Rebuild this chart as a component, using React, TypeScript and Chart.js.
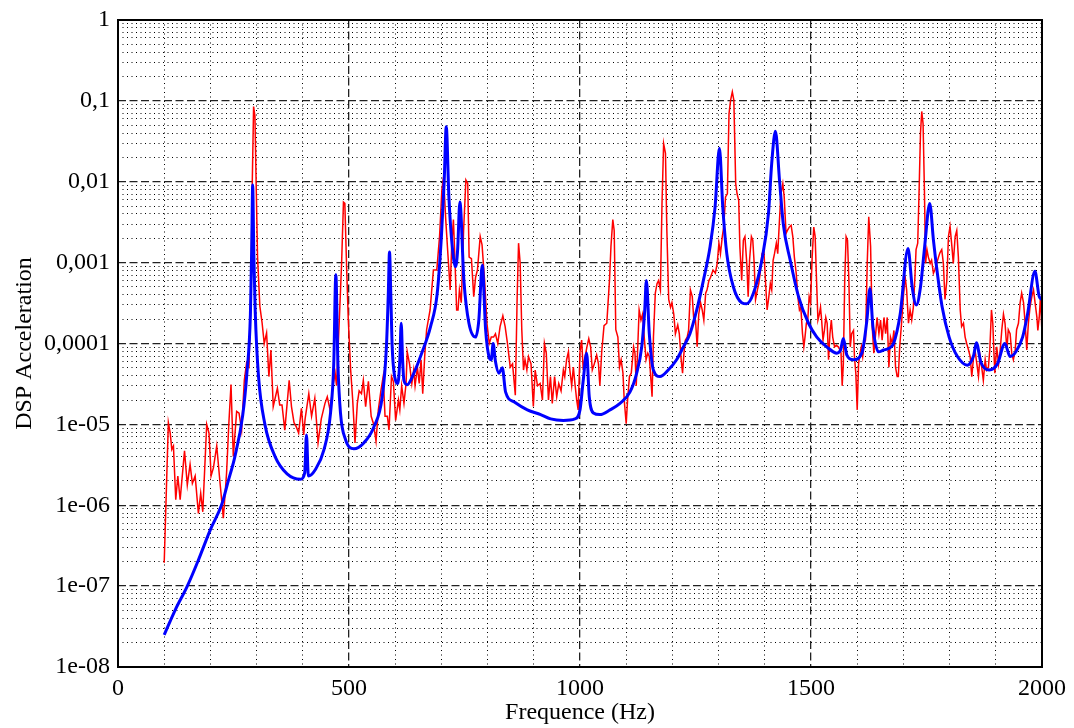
import React, { useEffect, useRef } from 'react';
import { Chart, registerables } from 'chart.js';

Chart.register(...registerables);

// ---------- data ----------
const redHz = [
  100, 109, 113, 116.5, 120, 125, 129.5, 134.5, 144, 150,
  156, 161, 167, 174, 179, 183.5, 192, 197, 201.5, 206.5,
  213.7, 221, 228, 235, 240, 244.6, 249.6, 256.8, 262, 267.6,
  273.4, 278.4, 283.5, 287.8, 290.6, 293.5, 296.4, 299.3, 302, 307,
  312, 316.5, 321.6, 326.6, 331, 336, 345, 350, 355, 361,
  370.5, 375.5, 381, 386, 391, 397, 402, 405, 413, 419,
  426, 433, 440, 448, 453, 459, 466, 470, 473, 479,
  484, 488, 491, 495, 498.5, 503.6, 508, 513, 518, 522,
  527, 531, 536, 542, 548, 553, 558.5, 563.5, 569, 574,
  578, 583, 586.6, 592, 596, 601, 607, 610, 614, 619,
  623.5, 626, 631, 636, 640, 643, 648, 652, 656, 659.6,
  664, 668, 675.5, 682.7, 690, 696, 701, 704.6, 709.4, 714,
  719, 722.5, 726, 729.6, 733, 736, 739, 743, 748, 753,
  757, 760, 765, 770, 774, 778, 784, 788, 793.5, 798.6,
  803.6, 808, 813, 817, 822, 827, 833, 838, 843, 849,
  854, 860, 864, 867, 870.5, 874, 877.7, 881, 885, 888.5,
  894, 899, 903, 908, 913.7, 918.7, 923, 927, 931.7, 936,
  940, 945, 949.6, 954, 959, 964, 967, 971, 975, 978,
  982, 985.6, 989, 992.8, 996, 1000, 1003.6, 1007, 1011, 1015,
  1019, 1023, 1026.6, 1031, 1036, 1040, 1043, 1047, 1052, 1058,
  1064, 1067, 1071, 1074, 1077.5, 1082, 1085.5, 1089, 1093, 1095.7,
  1100, 1103, 1107, 1111, 1116, 1119, 1121.7, 1125, 1128, 1132,
  1135.5, 1139, 1143, 1146.7, 1150, 1153.6, 1156, 1159, 1163, 1166.7,
  1170, 1174, 1177.5, 1181, 1185, 1188, 1192, 1196, 1199, 1203,
  1206.5, 1211.6, 1215, 1219, 1222, 1225, 1228, 1232, 1235, 1239,
  1243, 1246, 1250, 1253.6, 1257, 1261, 1264.5, 1268, 1272, 1275,
  1279, 1282.6, 1288, 1293, 1297, 1300.7, 1304, 1308, 1311, 1315,
  1319, 1322.5, 1326, 1329.7, 1333, 1337, 1340, 1343.5, 1346, 1350,
  1353.6, 1357, 1361, 1364, 1367, 1371, 1374, 1377, 1380, 1384,
  1387, 1390, 1394, 1398, 1401.4, 1405, 1408, 1412, 1415, 1418,
  1421, 1425, 1428, 1431.8, 1435, 1439, 1442, 1446, 1449, 1453,
  1457, 1460.6, 1464, 1468, 1471.5, 1475, 1478, 1481.6, 1484.5, 1487,
  1490, 1493, 1496, 1499, 1502.5, 1506, 1509, 1512, 1515, 1518,
  1520.6, 1523, 1526, 1529, 1532, 1535, 1538, 1541, 1544, 1547,
  1551, 1555, 1559, 1563, 1565, 1567.5, 1570, 1573, 1576, 1579,
  1582, 1585, 1588, 1592, 1594, 1597, 1600, 1603, 1606, 1609,
  1612, 1615, 1618, 1621.7, 1625, 1629, 1632.5, 1636, 1640, 1643,
  1647, 1650.5, 1654, 1658, 1661.5, 1665, 1668.6, 1672, 1676, 1679.5,
  1683, 1686.6, 1689, 1692, 1696, 1700, 1703.6, 1707, 1711, 1714.5,
  1718, 1721.5, 1725, 1727.4, 1731, 1734, 1737, 1739.7, 1742.6, 1745.5,
  1748, 1751, 1754, 1758, 1761, 1765, 1768, 1772, 1776, 1779,
  1783, 1786.5, 1790, 1794, 1797.5, 1801, 1805, 1808, 1812, 1815.5,
  1819, 1823, 1826, 1830, 1833.6, 1837, 1841, 1844.5, 1848, 1852,
  1855, 1859, 1862.5, 1866, 1869.5, 1873, 1877, 1880, 1884, 1887,
  1890.6, 1893.5, 1896, 1898, 1902, 1906, 1909, 1913, 1916.6, 1920,
  1924, 1927, 1931, 1934.5, 1938, 1942, 1945, 1949, 1952.7, 1956,
  1960, 1963.5, 1967, 1970.5, 1974, 1978, 1981.6, 1985, 1989, 1991,
  1994, 1996.7, 2000,
];

const redVal = [
  1.95e-7, 1.05e-5, 7.8e-6, 4.9e-6, 5.4e-6, 1.17e-6, 2.3e-6, 1.17e-6, 4.7e-6, 1.78e-6,
  3.2e-6, 1.86e-6, 2.3e-6, 7.9e-7, 1.41e-6, 8.3e-7, 1.0e-5, 7.8e-6, 2.3e-6, 2.9e-6,
  5.4e-6, 1.86e-6, 6.9e-7, 2.5e-6, 1.05e-5, 3.1e-5, 4.0e-6, 1.45e-5, 1.38e-5, 8.5e-6,
  3.5e-5, 5.8e-5, 5.2e-5, 4.6e-4, 9.5e-3, 0.085, 0.065, 7.9e-3, 1.2e-3, 2.9e-4,
  1.78e-4, 1.0e-4, 1.35e-4, 3.9e-5, 8.3e-5, 1.66e-5, 2.8e-5, 1.74e-5, 1.74e-5, 8.5e-6,
  3.5e-5, 1.66e-5, 1.05e-5, 9.3e-6, 7.8e-6, 1.58e-5, 7.4e-6, 1.17e-5, 2.4e-5, 1.26e-5,
  2.1e-5, 5.9e-6, 1.17e-5, 1.82e-5, 2.2e-5, 1.51e-5, 3.2e-5, 4.3e-5, 3.0e-5, 1.95e-4,
  9.8e-4, 5.6e-3, 5.4e-3, 8.1e-4, 1.95e-4, 4.7e-5, 2.0e-5, 5.9e-6, 1.82e-5, 2.6e-5,
  2.4e-5, 3.5e-5, 1.66e-5, 3.4e-5, 1.26e-5, 1.02e-5, 6.2e-6, 1.51e-5, 2.6e-5, 3.9e-5,
  1.26e-5, 1.26e-5, 8.5e-6, 3.9e-5, 3.4e-5, 1.12e-5, 2.0e-5, 1.51e-5, 3.0e-5, 1.82e-5,
  3.2e-5, 7.9e-5, 5.6e-5, 3.2e-5, 4.7e-5, 3.0e-5, 5.1e-5, 3.2e-5, 6.3e-5, 2.4e-5,
  7.2e-5, 1.48e-4, 2.6e-4, 8.1e-4, 8.1e-4, 2.1e-3, 7.9e-3, 0.0115, 3.4e-3, 1.29e-3,
  4.6e-4, 1.74e-3, 3.4e-3, 9.8e-4, 2.6e-4, 2.6e-4, 4.6e-4, 3.2e-4, 2.5e-3, 0.0105,
  9.5e-3, 1.17e-3, 1.12e-3, 3.8e-4, 6.6e-4, 8.1e-4, 2.1e-3, 1.66e-3, 6.0e-4, 1.78e-4,
  1.0e-4, 1.2e-4, 1.2e-4, 1.32e-4, 1.0e-4, 1.62e-4, 2.2e-4, 1.62e-4, 1.0e-4, 5.1e-5,
  5.6e-5, 2.3e-5, 3.8e-4, 1.74e-3, 9.8e-4, 1.48e-4, 4.7e-5, 6.3e-5, 4.7e-5, 6.9e-5,
  5.6e-5, 1.66e-5, 4.7e-5, 3.0e-5, 3.2e-5, 2.0e-5, 1.0e-4, 7.6e-5, 2.0e-5, 3.9e-5,
  1.82e-5, 3.9e-5, 2.2e-5, 3.2e-5, 2.6e-5, 4.7e-5, 3.9e-5, 6.3e-5, 7.9e-5, 4.7e-5,
  3.0e-5, 5.1e-5, 3.2e-5, 2.0e-5, 1.51e-5, 7.9e-5, 1.1e-4, 4.7e-5, 6.9e-5, 9.1e-5,
  1.15e-4, 9.1e-5, 4.7e-5, 5.6e-5, 7.2e-5, 5.6e-5, 3.0e-5, 7.9e-5, 1.66e-4, 1.78e-4,
  6.3e-4, 1.58e-3, 3.4e-3, 2.5e-3, 1.48e-4, 1.2e-4, 5.1e-5, 6.3e-5, 4.3e-5, 2.0e-5,
  1.02e-5, 2.0e-5, 3.9e-5, 4.3e-5, 9.1e-5, 7.6e-5, 3.0e-5, 9.1e-5, 2.6e-4, 1.95e-4,
  2.3e-4, 1.2e-4, 6.3e-5, 7.6e-5, 6.9e-5, 3.5e-5, 2.2e-5, 1.2e-4, 4.2e-4, 5.5e-4,
  6.0e-4, 4.6e-4, 5.4e-3, 0.0295, 0.0224, 2.5e-3, 3.5e-4, 2.8e-4, 3.2e-4, 2.3e-4,
  1.32e-4, 1.7e-4, 1.32e-4, 6.3e-5, 4.3e-5, 7.6e-5, 1.1e-4, 1.2e-4, 1.45e-4, 4.6e-4,
  3.8e-4, 2.1e-4, 1.95e-4, 9.1e-5, 2.3e-4, 3.2e-4, 2.6e-4, 1.95e-4, 4.2e-4, 4.6e-4,
  6.0e-4, 6.6e-4, 8.1e-4, 7.4e-4, 9.8e-4, 1.74e-3, 1.29e-3, 2.1e-3, 2.75e-3, 6.5e-3,
  7.1e-3, 0.069, 0.102, 0.129, 0.102, 9.5e-3, 7.1e-3, 5.9e-3, 1.58e-3, 6.0e-4,
  1.9e-3, 2.1e-3, 9.8e-4, 3.8e-4, 1.07e-3, 2.1e-3, 1.9e-3, 9.8e-4, 3.5e-4, 4.6e-4,
  5.5e-4, 7.4e-4, 1.29e-3, 1.41e-3, 6.0e-4, 2.6e-4, 3.5e-4, 5.5e-4, 4.6e-4, 1.07e-3,
  1.29e-3, 1.74e-3, 1.29e-3, 3.4e-3, 7.1e-3, 9.5e-3, 6.5e-3, 2.3e-3, 2.5e-3, 2.75e-3,
  2.9e-3, 2.1e-3, 1.17e-3, 7.4e-4, 3.8e-4, 2.6e-4, 2.8e-4, 1.32e-4, 9.1e-5, 1.2e-4,
  1.78e-4, 1.95e-4, 3.8e-4, 3.2e-4, 1.17e-3, 2.75e-3, 2.1e-3, 6.0e-4, 1.95e-4, 2.3e-4,
  2.8e-4, 1.95e-4, 1.1e-4, 1.45e-4, 2.1e-4, 1.78e-4, 6.3e-5, 1.32e-4, 1.95e-4, 1.2e-4,
  9.1e-5, 9.5e-5, 9.1e-5, 8.3e-5, 7.6e-5, 3.0e-5, 5.6e-5, 6.0e-4, 2.1e-3, 1.9e-3,
  6.0e-4, 9.1e-5, 1.32e-4, 1.45e-4, 6.9e-5, 4.3e-5, 1.51e-5, 5.6e-5, 7.6e-5, 9.1e-5,
  6.9e-5, 1.0e-4, 1.1e-4, 9.8e-4, 3.7e-3, 1.58e-3, 1.62e-4, 7.6e-5, 1.32e-4, 2.1e-4,
  1.32e-4, 1.95e-4, 1.1e-4, 2.1e-4, 1.32e-4, 2.1e-4, 5.1e-5, 1.2e-4, 1.0e-4, 1.45e-4,
  5.1e-5, 3.9e-5, 3.9e-5, 9.1e-5, 1.78e-4, 3.8e-4, 6.8e-4, 4.6e-4, 1.78e-4, 2.6e-4,
  1.95e-4, 2.8e-4, 6.8e-4, 1.45e-3, 1.74e-3, 7.9e-3, 0.04, 0.074, 0.052, 7.9e-3,
  9.8e-4, 1.45e-3, 1.17e-3, 9.8e-4, 1.07e-3, 7.4e-4, 8.1e-4, 9.8e-4, 1.17e-3, 1.32e-3,
  1.45e-3, 9.8e-4, 3.5e-4, 6.0e-4, 2.1e-3, 2.8e-3, 1.58e-3, 9.8e-4, 2.1e-3, 2.5e-3,
  1.17e-3, 2.6e-4, 1.62e-4, 1.78e-4, 1.2e-4, 1.0e-4, 8.3e-5, 6.9e-5, 3.9e-5, 6.9e-5,
  8.3e-5, 5.6e-5, 3.9e-5, 6.9e-5, 5.1e-5, 3.5e-5, 6.3e-5, 4.7e-5, 5.1e-5, 8.3e-5,
  2.6e-4, 1.78e-4, 7.6e-5, 4.3e-5, 9.1e-5, 5.6e-5, 7.6e-5, 1.48e-4, 2.3e-4, 1.78e-4,
  8.3e-5, 1.48e-4, 1.32e-4, 7.6e-5, 6.3e-5, 8.3e-5, 1.48e-4, 1.78e-4, 3.2e-4, 4.2e-4,
  3.2e-4, 1.78e-4, 8.3e-5, 1.78e-4, 2.8e-4, 3.8e-4, 4.6e-4, 3.2e-4, 2.1e-4, 1.45e-4,
  2.1e-4, 3.8e-4, 1.3e-4,
];

const blueHz = [
  100, 124, 150, 174, 200, 224.5, 238.7, 253, 270, 279,
  286.6, 289.5, 291.5, 294, 297, 304, 318, 340, 366, 395,
  404, 408, 412, 427, 445.5, 460, 467, 471.5, 476, 481.6,
  492.4, 510.5, 532, 553.8, 572, 581, 585, 587.7, 590.5, 593.5,
  600.7, 605.8, 610, 613, 616, 618.8, 626, 640.4, 658.5, 676.5,
  691, 700, 706, 710.5, 716.2, 723.5, 730.7, 735, 740, 748.7,
  759.6, 774, 781, 788.4, 795.7, 802.9, 808, 812, 817, 824.5,
  831.8, 839, 857, 886, 914.8, 936.5, 964, 989, 1000, 1007,
  1014.4, 1020, 1029, 1043, 1065, 1086.6, 1108, 1122.7, 1133.6, 1140,
  1143.7, 1150, 1158.8, 1173, 1191, 1209, 1223.8, 1238, 1252.7, 1267,
  1281.6, 1292.4, 1301.8, 1309, 1317.7, 1332, 1350, 1361, 1375.5, 1393.5,
  1408, 1415, 1423, 1431.8, 1440, 1455, 1473, 1494.6, 1512.6, 1534,
  1556, 1564, 1570, 1577.6, 1592, 1610, 1621, 1627.5, 1634, 1646,
  1657, 1668, 1678.7, 1693, 1710, 1719, 1728, 1737, 1746, 1757,
  1765, 1773.5, 1784, 1799, 1817, 1838.6, 1852, 1858, 1867.5, 1885.6,
  1903.7, 1919.6, 1931, 1943.5, 1958, 1968.7, 1984.7, 1994, 2000,
];

const blueVal = [
  2.5e-8, 5.1e-8, 1.0e-7, 2.1e-7, 5.0e-7, 1.02e-6, 2.0e-6, 4.0e-6, 1.3e-5, 4.3e-5,
  2.3e-4, 1.6e-3, 9.1e-3, 1.26e-3, 2.5e-4, 4.0e-5, 1.0e-5, 4.0e-6, 2.45e-6, 2.1e-6,
  2.5e-6, 7.4e-6, 2.3e-6, 2.75e-6, 4.8e-6, 1.38e-5, 5.6e-5, 7.1e-4, 5.6e-5, 1.38e-5,
  6.5e-6, 5.0e-6, 5.9e-6, 9.3e-6, 2.2e-5, 9.1e-5, 4.0e-4, 1.35e-3, 4.0e-4, 9.1e-5,
  3.5e-5, 3.2e-5, 6.3e-5, 1.78e-4, 6.3e-5, 3.5e-5, 3.1e-5, 4.3e-5, 7.9e-5, 1.62e-4,
  4.2e-4, 2.1e-3, 0.01, 0.048, 6.5e-3, 1.58e-3, 8.9e-4, 1.4e-3, 5.6e-3, 6.0e-4,
  1.78e-4, 1.2e-4, 1.95e-4, 9.3e-4, 1.48e-4, 6.9e-5, 6.3e-5, 1.0e-4, 6.0e-5, 4.3e-5,
  5.0e-5, 2.5e-5, 1.9e-5, 1.51e-5, 1.32e-5, 1.17e-5, 1.12e-5, 1.17e-5, 1.51e-5, 3.5e-5,
  7.6e-5, 2.2e-5, 1.38e-5, 1.32e-5, 1.51e-5, 1.82e-5, 2.5e-5, 4.3e-5, 9.1e-5, 2.5e-4,
  6.0e-4, 1.32e-4, 4.7e-5, 3.9e-5, 4.7e-5, 6.3e-5, 9.1e-5, 1.32e-4, 2.6e-4, 6.0e-4,
  1.58e-3, 4.9e-3, 0.026, 4.9e-3, 1.29e-3, 5.0e-4, 3.2e-4, 3.1e-4, 4.2e-4, 1.07e-3,
  4.1e-3, 0.017, 0.042, 0.0105, 3.0e-3, 1.07e-3, 3.8e-4, 1.78e-4, 1.2e-4, 9.1e-5,
  7.6e-5, 8.3e-5, 1.15e-4, 7.2e-5, 6.3e-5, 7.6e-5, 1.95e-4, 4.8e-4, 1.62e-4, 7.9e-5,
  8.3e-5, 8.7e-5, 1.0e-4, 2.3e-4, 1.5e-3, 5.0e-4, 3.0e-4, 5.0e-4, 1.58e-3, 5.4e-3,
  1.9e-3, 7.4e-4, 2.8e-4, 1.2e-4, 6.9e-5, 5.4e-5, 7.1e-5, 1.02e-4, 5.9e-5, 4.7e-5,
  5.6e-5, 1.0e-4, 6.9e-5, 7.9e-5, 1.2e-4, 2.3e-4, 7.8e-4, 3.8e-4, 3.5e-4,
];

const xMajorTicks = [0, 500, 1000, 1500, 2000];
const xTickLabels = ['0', '500', '1000', '1500', '2000'];
const xMinorTicks = [100, 200, 300, 400, 600, 700, 800, 900, 1100, 1200, 1300, 1400, 1600, 1700, 1800, 1900];
const yMajorTicks = [1e-8, 1e-7, 1e-6, 1e-5, 1e-4, 1e-3, 1e-2, 1e-1, 1];
const yTickLabels = ['1e-08', '1e-07', '1e-06', '1e-05', '0,0001', '0,001', '0,01', '0,1', '1'];
const yMinorFactors = [2, 3, 4, 5, 6, 7, 8, 9];
const xTitle = 'Frequence (Hz)';
const yTitle = 'DSP Acceleration';

const FONT = '"Liberation Serif", "Times New Roman", "DejaVu Serif", serif';

const framePlugin = {
  id: 'frame',
  afterDraw(chart: any) {
    const { ctx, chartArea } = chart;
    const { left, top, right, bottom } = chartArea;
    ctx.save();
    ctx.strokeStyle = '#000';
    ctx.lineWidth = 2;
    ctx.setLineDash([]);
    ctx.strokeRect(left, top, right - left, bottom - top);
    ctx.restore();
  },
};

export default function App() {
  const canvasRef = useRef<HTMLCanvasElement | null>(null);

  useEffect(() => {
    if (!canvasRef.current) return;
    const yMinorTicks: number[] = [];
    yMajorTicks.slice(0, -1).forEach((d) => yMinorFactors.forEach((f) => yMinorTicks.push(f * d)));

    const redData = redHz.map((x, i) => ({ x, y: redVal[i] }));
    const blueData = blueHz.map((x, i) => ({ x, y: blueVal[i] }));

    const yLabelFor = (v: number) => {
      const idx = yMajorTicks.findIndex((t) => Math.abs(Math.log10(t) - Math.log10(v)) < 1e-6);
      return idx >= 0 ? yTickLabels[idx] : '';
    };
    const xLabelFor = (v: number) => {
      const idx = xMajorTicks.findIndex((t) => Math.abs(t - v) < 1e-6);
      return idx >= 0 ? xTickLabels[idx] : '';
    };

    const chart = new Chart(canvasRef.current, {
      type: 'line',
      data: {
        datasets: [
          {
            label: 'model',
            data: blueData,
            borderColor: '#0000ff',
            borderWidth: 3,
            pointRadius: 0,
            cubicInterpolationMode: 'monotone',
            fill: false,
            xAxisID: 'x',
            yAxisID: 'y',
          },
          {
            label: 'measure',
            data: redData,
            borderColor: '#ff0000',
            borderWidth: 1.5,
            pointRadius: 0,
            tension: 0,
            fill: false,
            xAxisID: 'x',
            yAxisID: 'y',
          },
        ],
      },
      options: {
        animation: false,
        responsive: false,
        layout: { padding: { left: 0, right: 32, top: 20, bottom: 0 } },
        plugins: {
          legend: { display: false },
          tooltip: { enabled: false },
        },
        scales: {
          x: {
            type: 'linear',
            position: 'bottom',
            min: 0,
            max: 2000,
            afterBuildTicks: (s: any) => {
              s.ticks = xMajorTicks.map((v) => ({ value: v }));
            },
            afterFit: (s: any) => {
              s.height = 61;
              s.paddingLeft = 0;
              s.paddingRight = 0;
            },
            ticks: {
              color: '#000',
              font: { family: FONT, size: 24 },
              padding: 7,
              maxRotation: 0,
              minRotation: 0,
              autoSkip: false,
              callback: (v: any) => xLabelFor(Number(v)),
            },
            grid: { color: '#222', lineWidth: 1.3, drawTicks: false },
            border: { display: false, dash: [8, 3.5] },
            title: {
              display: true,
              text: xTitle,
              color: '#000',
              font: { family: FONT, size: 24 },
              padding: { top: 0, bottom: 1 },
            },
          },
          x2: {
            type: 'linear',
            position: 'bottom',
            min: 0,
            max: 2000,
            afterBuildTicks: (s: any) => {
              s.ticks = xMinorTicks.map((v) => ({ value: v }));
            },
            afterFit: (s: any) => {
              s.height = 0;
              s.paddingLeft = 0;
              s.paddingRight = 0;
            },
            ticks: { display: false },
            grid: { color: '#000', lineWidth: 1, drawTicks: false },
            border: { display: false, dash: [1, 3.5] },
          },
          y: {
            type: 'logarithmic',
            position: 'left',
            min: 1e-8,
            max: 1,
            afterBuildTicks: (s: any) => {
              s.ticks = yMajorTicks.map((v) => ({ value: v }));
            },
            afterFit: (s: any) => {
              s.width = 118;
              s.paddingTop = 0;
              s.paddingBottom = 0;
            },
            ticks: {
              color: '#000',
              font: { family: FONT, size: 24 },
              padding: 8,
              autoSkip: false,
              callback: (v: any) => yLabelFor(Number(v)),
            },
            grid: { color: '#222', lineWidth: 1.3, drawTicks: false },
            border: { display: false, dash: [8, 3.5] },
            title: {
              display: true,
              text: yTitle,
              color: '#000',
              font: { family: FONT, size: 24 },
              padding: { top: 10, bottom: 0 },
            },
          },
          y2: {
            type: 'logarithmic',
            position: 'left',
            min: 1e-8,
            max: 1,
            afterBuildTicks: (s: any) => {
              s.ticks = yMinorTicks.map((v) => ({ value: v }));
            },
            afterFit: (s: any) => {
              s.width = 0;
              s.paddingTop = 0;
              s.paddingBottom = 0;
            },
            ticks: { display: false },
            grid: { color: '#000', lineWidth: 1, drawTicks: false },
            border: { display: false, dash: [1, 3.5] },
          },
        },
      } as any,
      plugins: [framePlugin],
    });

    return () => chart.destroy();
  }, []);

  return (
    <div style={{ position: 'absolute', left: 0, top: 0, width: 1074, height: 728, background: '#fff' }}>
      <canvas ref={canvasRef} width={1074} height={728} style={{ display: 'block' }} />
    </div>
  );
}
